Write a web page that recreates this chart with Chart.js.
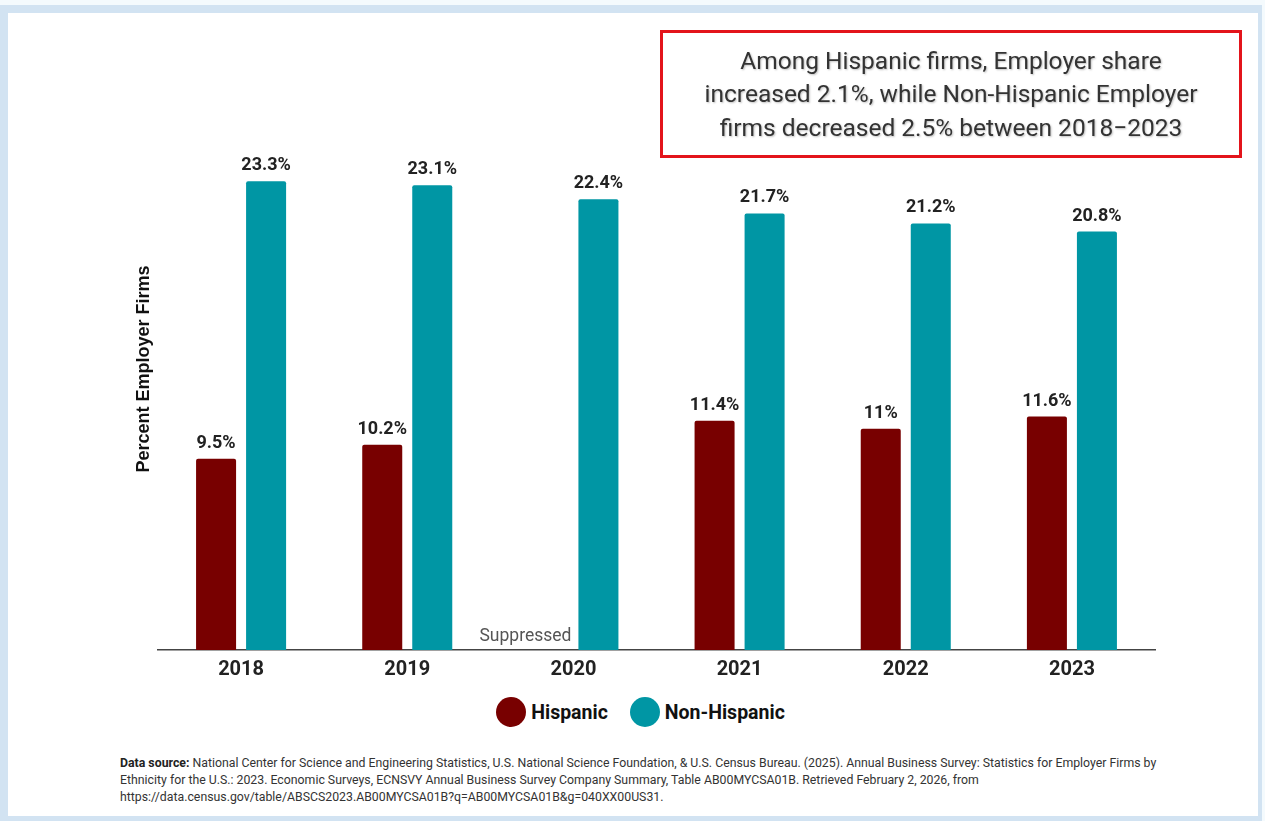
<!DOCTYPE html>
<html>
<head>
<meta charset="utf-8">
<script src="https://cdn.jsdelivr.net/npm/chart.js@4"></script>
<style>
  html, body { margin: 0; padding: 0; }
  body { width: 1265px; height: 821px; background: #f4fafd; position: relative; overflow: hidden; font-family: Roboto, "Noto Sans", sans-serif; }
  #frame { position: absolute; left: 0; top: 5px; width: 1262px; height: 816px; background: #d2e3f2; }
  #panel { position: absolute; left: 8px; top: 13px; width: 1250px; height: 803px; background: #fff; }
  #chart-wrap { position: absolute; left: 0; top: 0; width: 1265px; height: 690px; }
  #legend { position: absolute; left: 8px; top: 697px; width: 1265px; height: 30px; display: flex; justify-content: center; align-items: center;
            font-size: 19.5px; font-weight: bold; color: #111; }
  #legend .item { display: flex; align-items: center; margin: 0 11px; }
  #legend .dot { width: 30px; height: 30px; border-radius: 50%; margin-right: 5px; }
  #note { position: absolute; left: 660px; top: 30px; width: 576px; height: 122px; border: 3px solid #e3141b;
          display: flex; align-items: center; justify-content: center; text-align: center;
          font-size: 24.5px; line-height: 33.5px; color: #333; text-shadow: 1px 1px 2px rgba(0,0,0,0.25); }
  #source { position: absolute; left: 120px; top: 755px; width: 1060px; font-family: "Liberation Sans Narrow", "Roboto", sans-serif;
            font-size: 12.3px; line-height: 17px; color: #333; }
  #source b { color: #222; }
</style>
</head>
<body>
<div id="frame"></div>
<div id="panel"></div>
<div id="chart-wrap"><canvas id="employer-chart" width="1265" height="690"></canvas></div>
<div id="legend"></div>
<div id="note">Among Hispanic firms, Employer share<br>increased 2.1%, while Non-Hispanic Employer<br>firms decreased 2.5% between 2018&minus;2023</div>
<div id="source"><b>Data source:</b> National Center for Science and Engineering Statistics, U.S. National Science Foundation, &amp; U.S. Census Bureau. (2025). Annual Business Survey: Statistics for Employer Firms by Ethnicity for the U.S.: 2023. Economic Surveys, ECNSVY Annual Business Survey Company Summary, Table AB00MYCSA01B. Retrieved February 2, 2026, from https://data.census.gov/table/ABSCS2023.AB00MYCSA01B?q=AB00MYCSA01B&amp;g=040XX00US31.</div>

<script>
const years = ['2018', '2019', '2020', '2021', '2022', '2023'];
const hispanic = [9.5, 10.2, null, 11.4, 11, 11.6];
const nonHispanic = [23.3, 23.1, 22.4, 21.7, 21.2, 20.8];
const suppressedLabel = 'Suppressed';
const yTitle = 'Percent Employer Firms';

const HISP_COLOR = '#780000';
const NONHISP_COLOR = '#0096a4';

// value labels above each bar, plus the "Suppressed" note for missing values
const barLabels = {
    id: 'barLabels',
    afterDatasetsDraw(chart) {
        const ctx = chart.ctx;
        const yScale = chart.scales.y;
        ctx.save();
        chart.data.datasets.forEach((ds, i) => {
            const meta = chart.getDatasetMeta(i);
            meta.data.forEach((bar, j) => {
                const v = ds.data[j];
                if (v === null) {
                    const other = chart.getDatasetMeta(1).data[j];
                    ctx.font = '17.5px Roboto';
                    ctx.fillStyle = '#555';
                    ctx.textAlign = 'right';
                    ctx.textBaseline = 'alphabetic';
                    ctx.fillText(suppressedLabel, other.x - other.width / 2 - 7, yScale.getPixelForValue(0) - 9);
                    return;
                }
                ctx.font = 'bold 18px Roboto';
                ctx.fillStyle = '#222';
                ctx.textAlign = 'center';
                ctx.textBaseline = 'alphabetic';
                ctx.fillText(v + '%', bar.x, bar.y - 11);
            });
        });
        // rotated y-axis title
        ctx.translate(144, 369);
        ctx.rotate(-Math.PI / 2);
        ctx.font = 'bold 18px "Liberation Sans", Arial, sans-serif';
        ctx.fillStyle = '#111';
        ctx.textAlign = 'center';
        ctx.textBaseline = 'middle';
        ctx.fillText(yTitle, 0, 0);
        ctx.restore();
    }
};

const ctx = document.getElementById('employer-chart').getContext('2d');
const chart = new Chart(ctx, {
    type: 'bar',
    data: {
        labels: years,
        datasets: [
            { label: 'Hispanic', data: hispanic, backgroundColor: HISP_COLOR },
            { label: 'Non-Hispanic', data: nonHispanic, backgroundColor: NONHISP_COLOR }
        ]
    },
    options: {
        responsive: false,
        animation: false,
        layout: { padding: { left: 158, right: 110, top: 147, bottom: 0 } },
        datasets: {
            bar: { categoryPercentage: 0.602, barPercentage: 0.8, borderRadius: 2 }
        },
        plugins: {
            tooltip: { enabled: false },
            legend: { display: false }
        },
        scales: {
            x: {
                grid: { display: false, drawTicks: false },
                border: { color: '#444', width: 1.5 },
                ticks: { color: '#222', padding: 8, font: { family: 'Roboto', size: 20, weight: 'bold' } }
            },
            y: {
                display: false,
                min: 0,
                max: 25
            }
        }
    },
    plugins: [barLabels]
});

// legend built from the datasets
const legendEl = document.getElementById('legend');
chart.data.datasets.forEach(ds => {
    const item = document.createElement('div');
    item.className = 'item';
    const dot = document.createElement('span');
    dot.className = 'dot';
    dot.style.background = ds.backgroundColor;
    const txt = document.createElement('span');
    txt.textContent = ds.label;
    item.appendChild(dot);
    item.appendChild(txt);
    legendEl.appendChild(item);
});
</script>
</body>
</html>
